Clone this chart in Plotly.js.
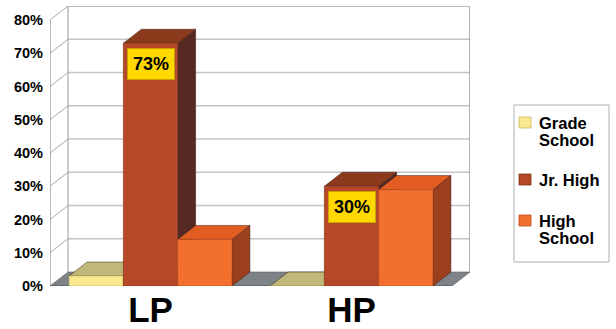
<!DOCTYPE html>
<html>
<head>
<meta charset="utf-8">
<script src="https://cdn.plot.ly/plotly-3.0.1.min.js"></script>
<style>html,body{margin:0;padding:0;background:#fff;}#chart{width:616px;height:329px;}</style>
</head>
<body>
<div id="chart"></div>
<script>
// ---- data ----
const categories = ['LP', 'HP'];
const catPos = [0, 1];
const seriesNames = ['Grade School', 'Jr. High', 'High School'];
const legendLines = [['Grade', 'School'], ['Jr. High'], ['High', 'School']];
const gradeSchool = [3, 0];
const jrHigh = [73, 30];
const highSchool = [14, 29];
const jrHighLabels = ['73%', '30%'];
const yTickVals = [0, 10, 20, 30, 40, 50, 60, 70, 80];

// ---- styles ----
const frontColors = ['#fbe98f', '#b64827', '#f26f2e'];
const topColors = ['#bfb878', '#8c3a1c', '#e35c22'];
const sideColors = ['#a09a55', '#552a22', '#9b3f1e'];
const edgeColors = ['#c9b860', '#7a2e16', '#b94a1c'];
const FONT = 'Liberation Sans, Arial, Helvetica, sans-serif';

const seriesValues = [gradeSchool, jrHigh, highSchool];
const nSeries = seriesValues.length;
const bargap = 0.19;
const groupW = 1 - bargap;
const barW = groupW / nSeries;
const dX = 0.0896;   // depth offset in x units
const dY = 4.21;     // depth offset in y units
const xMin = -0.5, xMax = 1.5, yMax = 80;

// plot-area pixel geometry (for paper-referenced legend)
const PL = 50, PR = 470, PT = 6, PB = 286;
const px = x => (x - PL) / (PR - PL);
const py = y => (PB - y) / (PB - PT);

const traces = seriesValues.map((vals, s) => ({
  type: 'bar',
  name: seriesNames[s],
  x: catPos,
  y: vals,
  width: catPos.map(() => barW),
  offset: catPos.map(() => -groupW / 2 + s * barW),
  marker: { color: frontColors[s], line: { color: edgeColors[s], width: 0.6 } },
  hoverinfo: 'skip',
  showlegend: false
}));

const shapes = [];
const gridCol = '#c4c4c4';
// floor
shapes.push({ type: 'path', xref: 'x', yref: 'y', layer: 'below',
  path: `M${xMin},0 L${xMin + dX},${dY} L${xMax + dX},${dY} L${xMax},0 Z`,
  fillcolor: '#7d8387', line: { color: '#5c6064', width: 0.6 } });
// gridlines on side wall and back wall
yTickVals.forEach(v => {
  if (v === 0) return;
  const c = v === yMax ? '#bdbdbd' : gridCol;
  const w = v === yMax ? 2 : 1.3;
  shapes.push({ type: 'line', xref: 'x', yref: 'y', layer: 'below',
    x0: xMin, y0: v, x1: xMin + dX, y1: v + dY, line: { color: '#a8a8a8', width: 1 } });
  shapes.push({ type: 'line', xref: 'x', yref: 'y', layer: 'below',
    x0: xMin + dX, y0: v + dY, x1: xMax + dX, y1: v + dY, line: { color: c, width: w } });
});
// wall edges
shapes.push({ type: 'line', xref: 'x', yref: 'y', layer: 'below',
  x0: xMin, y0: 0, x1: xMin, y1: yMax, line: { color: '#8a8a8a', width: 1.2 } });
shapes.push({ type: 'line', xref: 'x', yref: 'y', layer: 'below',
  x0: xMin + dX, y0: dY, x1: xMin + dX, y1: yMax + dY, line: { color: '#9a9a9a', width: 1 } });
shapes.push({ type: 'line', xref: 'x', yref: 'y', layer: 'below',
  x0: xMax + dX, y0: dY, x1: xMax + dX, y1: yMax + dY, line: { color: '#999999', width: 1.5 } });
shapes.push({ type: 'line', xref: 'x', yref: 'y', layer: 'below',
  x0: xMin, y0: 0, x1: xMax, y1: 0, line: { color: '#555a5e', width: 1 } });

// bar tops and sides
catPos.forEach((c, ci) => {
  for (let s = 0; s < nSeries; s++) {
    const v = seriesValues[s][ci];
    const x0 = c - groupW / 2 + s * barW;
    const x1 = x0 + barW;
    shapes.push({ type: 'path', xref: 'x', yref: 'y', layer: 'below',
      path: `M${x1},0 L${x1},${v} L${x1 + dX},${v + dY} L${x1 + dX},${dY} Z`,
      fillcolor: sideColors[s], line: { color: '#3a1a10', width: 0.5 } });
    shapes.push({ type: 'path', xref: 'x', yref: 'y', layer: 'below',
      path: `M${x0},${v} L${x0 + dX},${v + dY} L${x1 + dX},${v + dY} L${x1},${v} Z`,
      fillcolor: topColors[s], line: { color: '#3a1a10', width: 0.5 } });
  }
});

const annotations = catPos.map((c, ci) => ({
  x: c - groupW / 2 + 1 * barW + barW / 2,
  y: jrHigh[ci],
  xref: 'x', yref: 'y',
  text: jrHighLabels[ci],
  showarrow: false,
  yanchor: 'top',
  yshift: -5,
  bgcolor: '#ffd800',
  bordercolor: '#c8a200',
  borderwidth: 1,
  borderpad: 5,
  font: { family: FONT, size: 18, color: '#000', weight: 'bold' }
}));

// ---- legend (drawn in paper coordinates) ----
shapes.push({ type: 'rect', xref: 'paper', yref: 'paper',
  x0: px(514), x1: px(609), y0: py(262), y1: py(105),
  line: { color: '#b0b0b0', width: 1 }, fillcolor: '#ffffff' });
const legendTop = [117, 174, 215];   // top of each legend square (px)
const lineStep = 17;
legendLines.forEach((lines, s) => {
  const t = legendTop[s];
  shapes.push({ type: 'rect', xref: 'paper', yref: 'paper',
    x0: px(519), x1: px(531), y0: py(t + 11), y1: py(t),
    fillcolor: frontColors[s], line: { color: edgeColors[s], width: 0.8 } });
  lines.forEach((ln, li) => {
    annotations.push({ xref: 'paper', yref: 'paper',
      x: px(537), y: py(t + 6 + li * lineStep), xanchor: 'left', yanchor: 'middle',
      text: ln, showarrow: false,
      font: { family: FONT, size: 16.5, color: '#000', weight: 'bold' } });
  });
});

const layout = {
  width: 616, height: 329,
  margin: { l: PL, r: 616 - PR, t: PT, b: 329 - PB },
  paper_bgcolor: '#ffffff',
  plot_bgcolor: '#ffffff',
  showlegend: false,
  barmode: 'overlay',
  xaxis: {
    range: [xMin, xMin + (PR - PL) / 201],
    tickvals: catPos, ticktext: categories,
    showgrid: false, zeroline: false, showline: false, ticks: '',
    tickfont: { family: FONT, size: 35, color: '#000', weight: 'bold' },
    fixedrange: true
  },
  yaxis: {
    range: [0, (PB - PT) / 3.325],
    tickvals: yTickVals, ticktext: yTickVals.map(v => v + '%'),
    showgrid: false, zeroline: false, showline: false, ticks: '',
    ticklabelstandoff: 6,
    tickfont: { family: FONT, size: 14.5, color: '#000', weight: 'bold' },
    fixedrange: true
  },
  shapes: shapes,
  annotations: annotations
};

Plotly.newPlot('chart', traces, layout, { displayModeBar: false, staticPlot: true });
</script>
</body>
</html>
